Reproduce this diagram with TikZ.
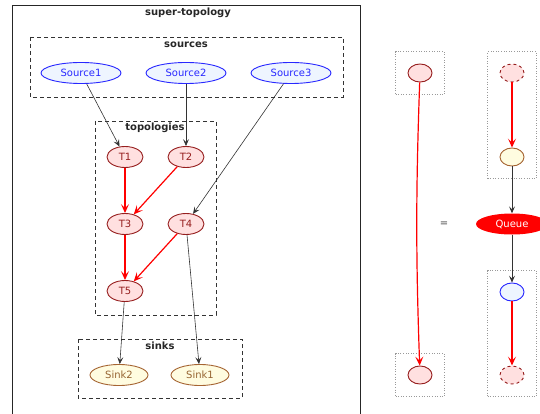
\documentclass[tikz,border=0pt]{standalone}
\usepackage{fontspec}
\setmainfont{DejaVu Sans}
\usetikzlibrary{shapes.geometric,arrows.meta,fit}
\definecolor{srcline}{RGB}{40,40,255}
\definecolor{srcfill}{RGB}{238,245,255}
\definecolor{topline}{RGB}{150,30,30}
\definecolor{topfill}{RGB}{255,224,224}
\definecolor{snkline}{RGB}{165,100,50}
\definecolor{snkfill}{RGB}{255,252,224}
\definecolor{snktext}{RGB}{150,100,50}

\begin{document}
\begin{tikzpicture}[x=1pt, y=-1pt,
  font=\fontsize{10}{12}\selectfont,
  src/.style={ellipse, draw=srcline, fill=srcfill, text=srcline, line width=0.9pt, minimum width=80pt, minimum height=21pt, inner sep=0pt},
  topo/.style={ellipse, draw=topline, fill=topfill, text=topline, line width=0.9pt, minimum width=36pt, minimum height=21pt, inner sep=0pt},
  snk/.style={ellipse, draw=snkline, fill=snkfill, text=snktext, line width=0.9pt, minimum width=58pt, minimum height=21pt, inner sep=0pt},
  dot/.style={ellipse, line width=0.9pt, minimum width=24pt, minimum height=18pt, inner sep=0pt},
  cluster/.style={draw=black!80, dash pattern=on 4pt off 3pt, line width=0.6pt},
  legbox/.style={draw=black!40, dotted, line width=0.6pt, inner sep=12pt},
  title/.style={font=\fontsize{10}{12}\selectfont\bfseries, text=black!85},
  blk/.style={draw=black!80, line width=0.6pt, -{Stealth[length=7pt,width=6pt,inset=3pt]}},
  redarr/.style={draw=red, line width=1.2pt, -{Stealth[length=9pt,width=8pt,inset=4pt]}}]
\useasboundingbox (0,0) rectangle (540,414);

% super-topology
\draw[black!85, line width=0.9pt] (12,420) -- (12,5) -- (360,5) -- (360,420);
\node[title] (supername) at (188,13) {super-topology};

% sources
\draw[cluster] (30,37) rectangle (343,97);
\node[title] (srcname) at (186,45) {sources};
\node[src] (src1) at (81,73) {Source1};
\node[src] (src2) at (186,73) {Source2};
\node[src] (src3) at (291,73) {Source3};

% topologies
\draw[cluster] (95,121) rectangle (216,315);
\node[title] (toponame) at (155,128) {topologies};
\node[topo] (t1) at (125,157) {T1};
\node[topo] (t2) at (186,157) {T2};
\node[topo] (t3) at (125,224) {T3};
\node[topo] (t4) at (186,224) {T4};
\node[topo] (t5) at (125,291) {T5};

% sinks
\draw[cluster] (78,339) rectangle (242,398);
\node[title] (snkname) at (160,346) {sinks};
\node[snk] (sink2) at (119,375) {Sink2};
\node[snk] (sink1) at (200,375) {Sink1};

\draw[blk] (src1) -- (t1);
\draw[blk] (src2) -- (t2);
\draw[blk] (src3) -- (t4);
\draw[redarr] (t1) -- (t3);
\draw[redarr] (t2) -- (t3);
\draw[redarr] (t3) -- (t5);
\draw[redarr] (t4) -- (t5);
\draw[blk] (t5) -- (sink2);
\draw[blk] (t4) -- (sink1);

% legend, left column
\node[dot, draw=topline, fill=topfill] (la) at (420,73) {};
\node[dot, draw=topline, fill=topfill] (lb) at (420,375) {};
\node[legbox, fit=(la)] (boxa) {};
\node[legbox, fit=(lb)] (boxb) {};
\draw[redarr] (la) to[bend right=2] (lb);
\node[text=black!70] (eq) at (444,224) {=};

% legend, right column
\node[dot, draw=topline, fill=topfill, dashed] (ra) at (512,73) {};
\node[dot, draw=snkline, fill=snkfill] (rb) at (512,157) {};
\node[ellipse, fill=red, text=white, minimum width=72pt, minimum height=21pt, inner sep=0pt] (queue) at (512,224) {Queue};
\node[dot, draw=srcline, fill=srcfill] (rc) at (512,292) {};
\node[dot, draw=topline, fill=topfill, dashed] (rd) at (512,375) {};
\node[legbox, fit=(ra)(rb)] (boxc) {};
\node[legbox, fit=(rc)(rd)] (boxd) {};
\draw[redarr] (ra) -- (rb);
\draw[blk] (rb) -- (queue);
\draw[blk] (queue) -- (rc);
\draw[redarr] (rc) -- (rd);
\end{tikzpicture}
\end{document}
